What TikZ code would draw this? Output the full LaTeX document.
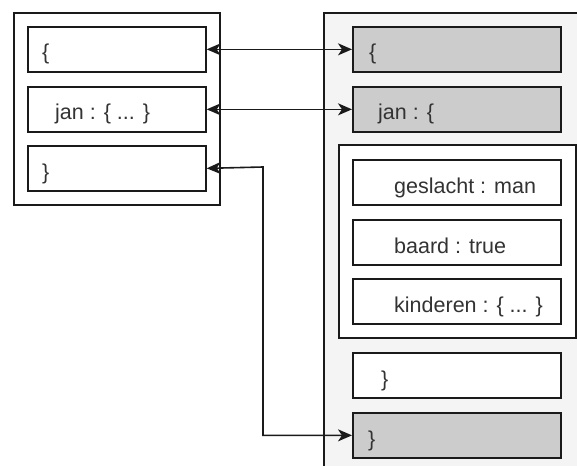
\documentclass[tikz,border=0pt]{standalone}
\usepackage{fontspec}
\setmainfont{Liberation Sans}
\usetikzlibrary{arrows.meta}
\definecolor{ink}{HTML}{1A1A1A}
\definecolor{txt}{HTML}{333333}
\definecolor{panel}{HTML}{F4F4F4}
\definecolor{shade}{HTML}{CCCCCC}
\tikzset{
  box/.style={draw=ink, line width=1.7pt, anchor=north west, inner sep=0pt},
  lbox/.style={box, fill=white, minimum width=178pt, minimum height=45pt},
  rbox/.style={box, fill=white, minimum width=208pt, minimum height=45pt},
  gbox/.style={rbox, fill=shade},
  lab/.style={anchor=base west, inner sep=0pt, text=txt, font=\fontsize{21.5}{24}\selectfont},
  link/.style={draw=ink, line width=1.6pt, {Stealth[length=14pt,width=12pt,inset=4pt]}-{Stealth[length=14pt,width=12pt,inset=4pt]}}
}
\begin{document}
\begin{tikzpicture}[x=1pt,y=-1pt]
\useasboundingbox (0,0) rectangle (577,465);
\clip (0,0) rectangle (577,465);
% left object, collapsed
\node[box, fill=white, minimum width=206pt, minimum height=192pt] (lout) at (13,12) {};
\node[lbox] (l1) at (27,26) {};
\node[lbox] (l2) at (27,86) {};
\node[lbox] (l3) at (27,145) {};
\node[lab] (t1) at (42,60) {\{};
\node[lab] (t2) at (55,120) {jan : \{ ... \}};
\node[lab] (t3) at (42,179) {\}};
% right object, expanded
\node[box, fill=panel, minimum width=300pt, minimum height=480pt] (rout) at (323,12) {};
\node[gbox] (r1) at (352,26) {};
\node[gbox] (r2) at (352,86) {};
\node[box, fill=white, minimum width=237pt, minimum height=193pt] (rin) at (338,144) {};
\node[rbox] (r3) at (352,159) {};
\node[rbox] (r4) at (352,219) {};
\node[rbox] (r5) at (352,278) {};
\node[rbox] (r6) at (352,352) {};
\node[gbox] (r7) at (352,412) {};
\node[lab] (u1) at (369,60) {\{};
\node[lab] (u2) at (378,120) {jan : \{};
\node[lab] (u3) at (394,193) {geslacht : man};
\node[lab] (u4) at (394,253) {baard : true};
\node[lab] (u5) at (394,312) {kinderen : \{ ... \}};
\node[lab] (u6) at (381,386) {\}};
\node[lab] (u7) at (368,446) {\}};
% links between matching lines
\draw[link] (l1.east) -- (r1.west);
\draw[link] (l2.east) -- (r2.west);
\draw[link] (l3.east) -- (263,167) |- (r7.west);
\end{tikzpicture}
\end{document}
